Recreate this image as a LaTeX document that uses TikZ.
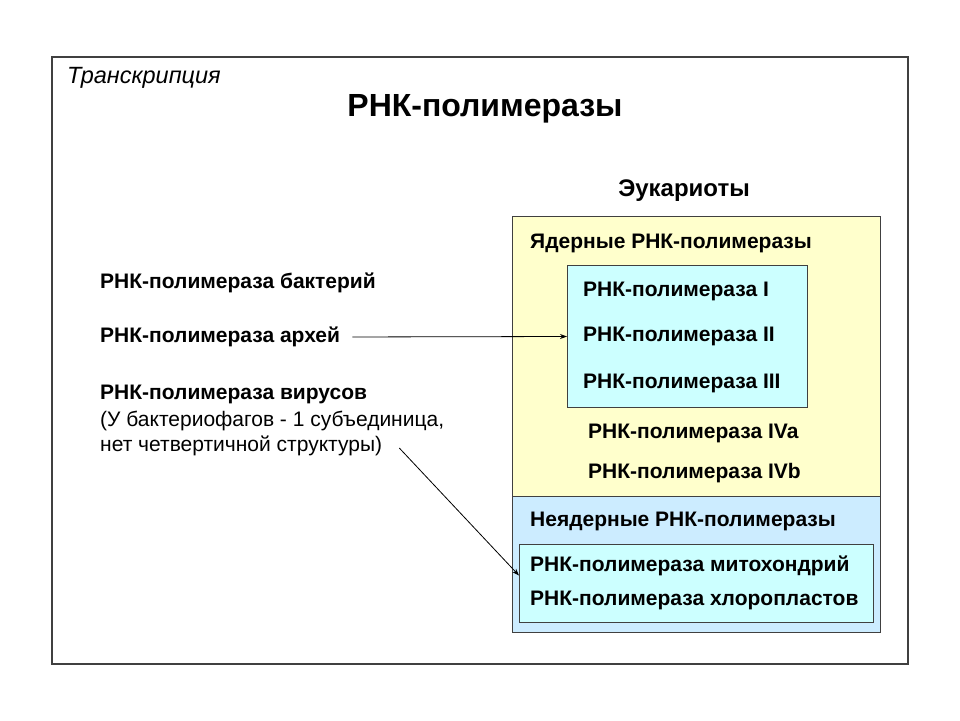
\documentclass[tikz,border=0pt]{standalone}
\usepackage{fontspec}
\setmainfont{Liberation Sans}
\usetikzlibrary{positioning, arrows.meta}

\definecolor{nuclyellow}{HTML}{FFFFCC}
\definecolor{orgblue}{HTML}{CCECFF}
\definecolor{polcyan}{HTML}{CCFFFF}
\definecolor{framegray}{HTML}{404040}

\tikzset{
    lbl/.style={anchor=west, inner sep=0pt, font=\fontsize{21}{25}\selectfont\bfseries},
    plain/.style={anchor=west, inner sep=0pt, font=\fontsize{21}{25}\selectfont},
    boxfill/.style={draw=framegray, line width=1pt, fill=#1},
    conn/.style={-{Stealth[length=7pt, width=5pt]}, line width=0.8pt}
}

\begin{document}
\begin{tikzpicture}[x=1pt, y=-1pt]
    \useasboundingbox (0,0) rectangle (960,720);
    \fill[white] (0,0) rectangle (960,720);
    \draw[framegray, line width=1.2pt] (52,57) rectangle (908,664);

    % eukaryote boxes
    \draw[boxfill=nuclyellow] (512,216) rectangle (880,496);
    \draw[boxfill=orgblue] (512,496) rectangle (880,632);
    \node (nucl) [boxfill=polcyan, minimum width=240pt, minimum height=142pt, anchor=north west] at (567,265) {};
    \node (org) [boxfill=polcyan, minimum width=354pt, minimum height=78pt, anchor=north west] at (519,544) {};

    % headings
    \node (trans) [anchor=west, inner sep=0pt, font=\fontsize{23.5}{27}\selectfont\itshape] at (67,78) {Транскрипция};
    \node (title) [inner sep=0pt, font=\fontsize{32}{37}\selectfont\bfseries] at (485,109) {РНК-полимеразы};
    \node (euk) [inner sep=0pt, font=\fontsize{24}{28}\selectfont\bfseries] at (684,191) {Эукариоты};

    % left column
    \node (bact) [lbl] at (100,283) {РНК-полимераза бактерий};
    \node (arch) [lbl] at (100,337) {РНК-полимераза архей};
    \node (vira) [lbl] at (100,394) {РНК-полимераза вирусов};
    \node (virb) [plain] at (100,421) {(У бактериофагов - 1 субъединица,};
    \node (virc) [plain] at (100,446) {нет четвертичной структуры)};

    % nuclear polymerases
    \node (nuclhead) [lbl] at (530,243) {Ядерные РНК-полимеразы};
    \node (pol1) [lbl] at (583,291) {РНК-полимераза I};
    \node (pol2) [lbl] at (583,336) {РНК-полимераза II};
    \node (pol3) [lbl] at (583,383) {РНК-полимераза III};
    \node (pol4a) [lbl] at (588,433) {РНК-полимераза IVa};
    \node (pol4b) [lbl] at (588,473) {РНК-полимераза IVb};

    % organelle polymerases
    \node (orghead) [lbl] at (530,521) {Неядерные РНК-полимеразы};
    \node (mito) [lbl] at (530,566) {РНК-полимераза митохондрий};
    \node (chlo) [lbl] at (530,600) {РНК-полимераза хлоропластов};

    \coordinate (virstart) at ([xshift=17pt, yshift=-2pt]virc.east);
    \coordinate (virtip) at ([yshift=8pt]org.west);
    \draw[conn, shorten <=12pt] (arch.east) -- (nucl.west);
    \draw[conn] (virstart) -- (virtip);
\end{tikzpicture}
\end{document}
